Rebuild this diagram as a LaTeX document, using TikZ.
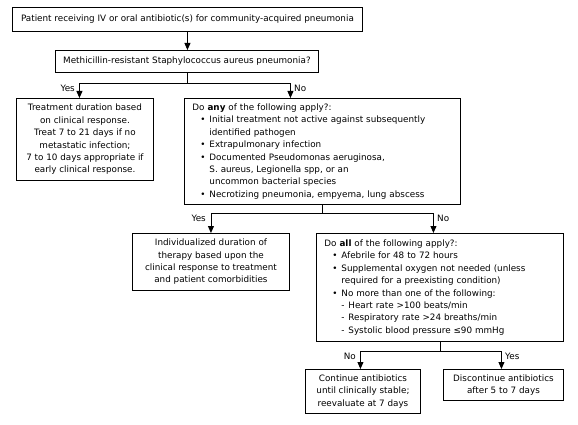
\documentclass[tikz,border=0pt]{standalone}
\usepackage{fontspec}
\setmainfont{DejaVu Sans}
\usetikzlibrary{arrows.meta}
\newcommand{\bul}{\hspace*{8pt}\makebox[9pt][l]{•}}
\newcommand{\cont}{\hspace*{17pt}}
\newcommand{\dsh}{\hspace*{17pt}\makebox[7pt][l]{-}}
\begin{document}
\begin{tikzpicture}[x=1pt,y=1pt,
  box/.style={draw, line width=0.9pt, inner sep=0pt, font=\fontsize{8.8}{12.4}\selectfont, anchor=north west},
  cbox/.style={box, align=center},
  lbox/.style={box, align=left},
  line/.style={line width=0.9pt},
  arr/.style={line width=0.9pt, -{Triangle[length=7pt,width=6pt]}},
  lab/.style={font=\fontsize{8.8}{10}\selectfont, inner sep=0pt}]
\useasboundingbox (0,0) rectangle (578,-425);
\node[cbox, minimum width=350, minimum height=24] (b1) at (12,-7) {Patient receiving IV or oral antibiotic(s) for community-acquired pneumonia};
\node[cbox, minimum width=263, minimum height=22] (b2) at (55,-50) {Methicillin-resistant Staphylococcus aureus pneumonia?};
\node[cbox, minimum width=137, minimum height=82] (b3) at (16,-98) {Treatment duration based\\on clinical response.\\Treat 7 to 21 days if no\\metastatic infection;\\7 to 10 days appropriate if\\early clinical response.};
\node[lbox, text width=260, inner xsep=8pt, minimum height=106] (b4) at (184,-98) {Do \textbf{any} of the following apply?:\\
\bul Initial treatment not active against subsequently\\
\cont identified pathogen\\
\bul Extrapulmonary infection\\
\bul Documented Pseudomonas aeruginosa,\\
\cont S. aureus, Legionella spp, or an\\
\cont uncommon bacterial species\\
\bul Necrotizing pneumonia, empyema, lung abscess};
\node[cbox, minimum width=157, minimum height=57] (b5) at (132,-233) {Individualized duration of\\therapy based upon the\\clinical response to treatment\\and patient comorbidities};
\node[lbox, text width=231, inner xsep=8pt, minimum height=108] (b6) at (316,-233) {Do \textbf{all} of the following apply?:\\
\bul Afebrile for 48 to 72 hours\\
\bul Supplemental oxygen not needed (unless\\
\cont required for a preexisting condition)\\
\bul No more than one of the following:\\
\dsh Heart rate >100 beats/min\\
\dsh Respiratory rate >24 breaths/min\\
\dsh Systolic blood pressure ≤90 mmHg};
\node[cbox, minimum width=115, minimum height=44] (b7) at (305,-369) {Continue antibiotics\\until clinically stable;\\reevaluate at 7 days};
\node[cbox, minimum width=120, minimum height=31] (b8) at (443,-369) {Discontinue antibiotics\\after 5 to 7 days};
% connectors
\draw[arr] (b1.south) -- (b1.south |- b2.north);
\coordinate (j1) at (b2.south |- 0,-83);
\draw[line] (b2.south) -- (j1);
\draw[arr] (j1) -| ([xshift=-5.5pt]b3.north);
\draw[arr] (j1) -| ([xshift=-32pt]b4.north);
\node[lab, anchor=east] (y1) at (75,-88) {Yes};
\node[lab, anchor=west] (n1) at (294,-88) {No};
\coordinate (j2) at (b4.south |- 0,-213);
\draw[line] (b4.south) -- (j2);
\draw[arr] (j2) -| (b5.north);
\draw[arr] (j2) -| ([xshift=-6.5pt]b6.north);
\node[lab, anchor=east] (y2) at (206,-218) {Yes};
\node[lab, anchor=west] (n2) at (437,-218) {No};
\coordinate (j3) at (b6.south |- 0,-351);
\draw[line] (b6.south) -- (j3);
\draw[arr] (j3) -| ([xshift=-2.5pt]b7.north);
\draw[arr] (j3) -| ([xshift=-2pt]b8.north);
\node[lab, anchor=east] (n3) at (356,-356) {No};
\node[lab, anchor=west] (y3) at (505,-356) {Yes};
\end{tikzpicture}
\end{document}
